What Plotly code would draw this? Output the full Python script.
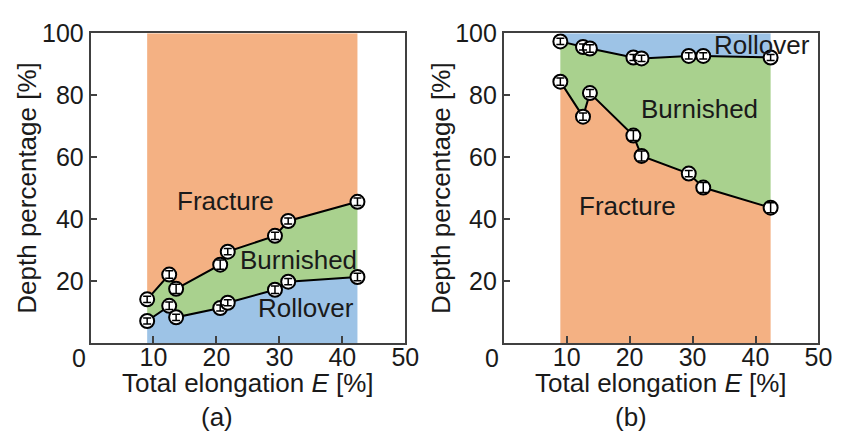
import plotly.graph_objects as go

# ---- data ----
elong_a = [9.0, 12.5, 13.6, 20.6, 21.8, 29.3, 31.4, 42.4]
frac_burn_a = [14.1, 22.1, 17.5, 25.3, 29.5, 34.6, 39.4, 45.6]   # boundary fracture/burnished
burn_roll_a = [7.1, 12.0, 8.3, 11.3, 13.0, 17.2, 19.8, 21.3]      # boundary burnished/rollover
err_up_a = [1.0, 1.2, 1.5, 1.5, 1.0, 1.2, 1.0, 1.2]
err_lo_a = [1.0, 1.2, 1.0, 1.0, 1.0, 1.2, 1.0, 1.2]

elong_b = [9.0, 12.6, 13.7, 20.6, 21.9, 29.4, 31.7, 42.4]
roll_burn_b = [97.4, 95.6, 95.1, 92.2, 91.9, 92.7, 92.7, 92.2]    # boundary rollover/burnished
burn_frac_b = [84.4, 73.1, 80.7, 67.0, 60.4, 54.7, 50.2, 43.7]    # boundary burnished/fracture
err_up_b = [1.0, 1.0, 1.2, 1.0, 1.0, 1.0, 1.0, 1.0]
err_lo_b = [1.2, 1.2, 1.2, 1.6, 1.6, 1.0, 1.6, 1.6]

top_val = 100
x_ticks = [10, 20, 30, 40, 50]
y_ticks = [20, 40, 60, 80, 100]

ORANGE = "#F4B183"
GREEN = "#A9D18E"
BLUE = "#9DC3E6"
AXC = "#404040"
FONT = "Liberation Sans, Arial, sans-serif"

fig = go.Figure()

def band(x, y, color, fill, xa, ya):
    fig.add_trace(go.Scatter(x=x, y=y, mode="lines", line=dict(width=0, color=color),
                             fill=fill, fillcolor=color, xaxis=xa, yaxis=ya,
                             showlegend=False, hoverinfo="skip"))

def curve(x, y, err, xa, ya):
    fig.add_trace(go.Scatter(x=x, y=y, mode="lines+markers",
                             line=dict(color="black", width=2),
                             marker=dict(size=14, color="white", line=dict(color="black", width=2)),
                             xaxis=xa, yaxis=ya, showlegend=False))
    fig.add_trace(go.Scatter(x=x, y=y, mode="markers", marker=dict(size=1, opacity=0),
                             error_y=dict(type="data", array=err, color="black",
                                          thickness=1.5, width=4),
                             xaxis=xa, yaxis=ya, showlegend=False, hoverinfo="skip"))

# panel (a)
band(elong_a, burn_roll_a, BLUE, "tozeroy", "x", "y")
band(elong_a, frac_burn_a, GREEN, "tonexty", "x", "y")
band(elong_a, [top_val] * len(elong_a), ORANGE, "tonexty", "x", "y")
curve(elong_a, frac_burn_a, err_up_a, "x", "y")
curve(elong_a, burn_roll_a, err_lo_a, "x", "y")

# panel (b)
band(elong_b, burn_frac_b, ORANGE, "tozeroy", "x2", "y2")
band(elong_b, roll_burn_b, GREEN, "tonexty", "x2", "y2")
band(elong_b, [top_val] * len(elong_b), BLUE, "tonexty", "x2", "y2")
curve(elong_b, roll_burn_b, err_up_b, "x2", "y2")
curve(elong_b, burn_frac_b, err_lo_b, "x2", "y2")

W, H = 861, 432

axis_common = dict(range=[0, 50], showline=True, mirror=True, linecolor=AXC, linewidth=1.5,
                   ticks="inside", ticklen=7, tickwidth=1.5, tickcolor=AXC,
                   showgrid=False, zeroline=False, tickvals=x_ticks, ticklabelstandoff=-9,
                   tickfont=dict(family=FONT, size=25, color="#1a1a1a"))
yaxis_common = dict(range=[0, 100], showline=True, mirror=True, linecolor=AXC, linewidth=1.5,
                    ticks="inside", ticklen=7, tickwidth=1.5, tickcolor=AXC,
                    showgrid=False, zeroline=False, tickvals=y_ticks,
                    tickfont=dict(family=FONT, size=25, color="#1a1a1a"))

ydom = [1 - 340 / H, 1 - 20 / H]
fig.update_layout(
    width=W, height=H, margin=dict(l=0, r=0, t=0, b=0),
    plot_bgcolor="white", paper_bgcolor="white",
    xaxis=dict(domain=[92 / W, 412 / W], anchor="y", **axis_common),
    yaxis=dict(domain=ydom, anchor="x", **yaxis_common),
    xaxis2=dict(domain=[512 / W, 832 / W], anchor="y2", **axis_common),
    yaxis2=dict(domain=ydom, anchor="x2", **yaxis_common),
)

ann = []
def txt(text, x, y, xref, yref, size=26, angle=0, xanchor="center", yanchor="middle"):
    ann.append(dict(text=text, x=x, y=y, xref=xref, yref=yref, showarrow=False,
                    font=dict(family=FONT, size=size, color="#1a1a1a"), textangle=angle,
                    xanchor=xanchor, yanchor=yanchor))

# region labels
txt("Fracture", 21.4, 46, "x", "y")
txt("Burnished", 33.0, 26.8, "x", "y")
txt("Rollover", 34.3, 11.3, "x", "y")
txt("Rollover", 41.0, 96.3, "x2", "y2")
txt("Burnished", 31.1, 75.5, "x2", "y2")
txt("Fracture", 19.6, 44.3, "x2", "y2")

# axis titles and origin labels
for x0, lab in [(92, "(a)"), (512, "(b)")]:
    txt("0", (x0 - 12) / W, 1 - 356 / H, "paper", "paper", size=25)
    txt("Total elongation <i>E</i> [%]", (x0 + 160) / W, 1 - 381 / H, "paper", "paper")
    txt(lab, (x0 + 129) / W, 1 - 416 / H, "paper", "paper")
    txt("Depth percentage [%]", (x0 - 64) / W, 1 - 180 / H, "paper", "paper", angle=-90)

fig.update_layout(annotations=ann)
fig.write_html("out.html")
